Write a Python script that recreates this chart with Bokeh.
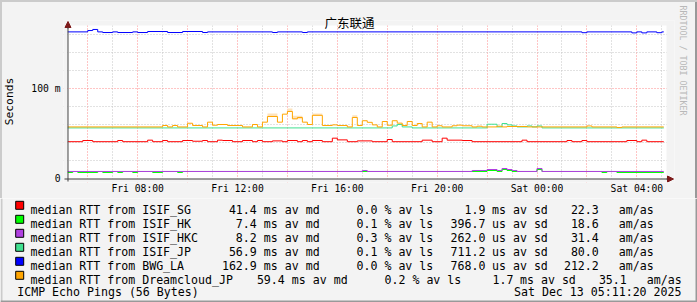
from bokeh.plotting import figure
from bokeh.models import Range1d, FixedTicker, Grid, Title, Arrow, NormalHead, ColumnDataSource
from bokeh.layouts import column
from bokeh.embed import file_html
from bokeh.resources import INLINE
from bokeh.core.properties import value

BG = "#f3f3f3"
MONO = "DejaVu Sans Mono"
CJK = "Noto Sans CJK SC"
AXIS_C = "#404040"
ARROW_C = "#7d1a1a"
GRID_C = "#c4c4c4"
MGRID_C = "#ff8a8a"
SHADE_A = "#cbcbcb"
SHADE_B = "#999999"

# ---------------- data (time in hours since Fri 00:00, values in ms) ----------------
T_START = 5 + 11 / 60 + 20 / 3600      # Fri 05:11:20
T_END = T_START + 24                   # Sat 05:11:20
DATA_END = 29.08
Y_MAX = 170

x_tick_hours = [8, 12, 16, 20, 24, 28]
x_tick_labels = ["Fri 08:00", "Fri 12:00", "Fri 16:00", "Fri 20:00", "Sat 00:00", "Sat 04:00"]
y_tick_ms = [0, 100]
y_tick_labels = ["0", "100 m"]

sg_t = [5.2, 5.8, 6.2, 7.2, 7.4, 8.4, 8.6, 9.0, 9.2, 9.8, 10.2, 10.6, 10.8, 11.2, 11.4, 11.8, 12.2,
        12.6, 12.8, 13.0, 13.4, 13.8, 14.0, 14.4, 14.6, 14.8, 15.0, 15.4, 15.8, 16.0, 16.4, 16.8,
        17.4, 18.0, 18.2, 19.4, 19.8, 20.2, 20.4, 21.0, 21.4, 23.4, 23.6, 25.2, 25.4, 25.8, 26.0,
        27.6, 28.0, 28.2, 28.4]
sg_ms = [40.9, 42.2, 40.9, 42.2, 40.9, 42.6, 40.9, 42.2, 40.9, 42.2, 41.4, 42.2, 40.9, 42.6, 42.2,
         40.9, 42.2, 40.9, 42.2, 40.9, 41.8, 40.9, 42.2, 40.9, 42.2, 40.9, 42.2, 40.9, 44.8, 42.9,
         40.9, 41.8, 40.9, 43.3, 40.9, 42.6, 40.9, 44.8, 42.6, 42.2, 40.9, 42.6, 40.9, 42.2, 40.9,
         42.2, 40.9, 42.2, 40.9, 42.6, 40.9]

hk_t = [5.2, 5.4, 5.6, 6.4, 6.6, 7.0, 7.2, 7.4, 7.8, 8.0, 8.6, 9.0, 9.6, 9.8, 22.0, 22.4, 22.6,
        22.8, 23.0, 24.0, 24.2, 26.6, 26.8, 27.2]
hk_ms = [6.7, 7.8, 6.7, 7.8, 6.7, 7.8, 6.7, 7.8, 6.7, 7.8, 6.7, 7.8, 6.7, 7.8, 8.9, 7.8, 10.0,
         8.9, 7.8, 10.0, 7.8, 6.7, 7.8, 6.7]

hkc_t = [5.2, 17.0, 17.2, 21.4, 22.0, 22.4, 22.6, 22.8, 23.0, 23.2, 24.0, 24.2]
hkc_ms = [7.8, 8.9, 7.8, 8.9, 10.0, 8.9, 11.1, 10.0, 8.9, 7.8, 11.1, 7.8]

jp_t = [5.2, 18.2, 18.4, 18.6, 19.0, 22.0, 22.4, 22.6, 22.8, 23.0, 23.2, 23.6, 23.8, 24.0, 24.2]
jp_ms = [56.2, 58.4, 60.0, 57.3, 56.2, 60.3, 57.3, 61.1, 59.6, 58.4, 57.3, 58.4, 57.3, 58.4, 56.2]

la_t = [5.2, 6.0, 6.2, 6.4, 6.6, 7.0, 7.2, 7.8, 8.0, 8.4, 9.2, 9.8, 10.6, 10.8, 13.4, 13.6, 14.6,
        14.8, 25.8, 26.0, 27.8, 28.0, 28.2, 28.4, 28.8, 29.0]
la_ms = [162.9, 164.4, 165.6, 162.9, 162.2, 162.9, 162.2, 162.9, 162.2, 163.3, 162.2, 163.3, 162.2,
         162.9, 162.2, 162.9, 162.2, 162.9, 162.0, 162.9, 161.8, 162.9, 161.8, 162.9, 162.0, 162.9]

dc_t = [5.2, 9.0, 9.2, 9.4, 9.6, 10.0, 10.2, 10.6, 10.8, 11.0, 11.2, 11.6, 12.2, 12.6, 12.8, 13.0,
        13.2, 13.6, 13.8, 14.0, 14.2, 14.4, 14.6, 14.8, 15.0, 15.4, 15.8, 16.0, 16.4, 16.6, 16.8,
        17.0, 17.2, 17.4, 17.6, 17.8, 18.0, 18.2, 18.4, 18.6, 18.8, 19.0, 19.2, 19.4, 19.6, 19.8,
        20.0, 20.2, 20.6, 20.8, 21.0, 21.4, 21.6, 21.8, 22.4, 22.6, 22.8, 23.6, 26.0, 26.2, 27.2, 27.4]
dc_ms = [57.3, 58.9, 57.3, 58.9, 57.3, 61.4, 58.9, 57.3, 62.6, 59.2, 60.0, 58.9, 57.3, 60.0, 57.3,
         62.6, 68.9, 62.6, 71.5, 74.5, 66.3, 67.8, 62.6, 60.0, 70.2, 58.9, 59.6, 58.9, 57.3, 67.8,
         58.9, 64.2, 62.4, 59.6, 57.3, 63.3, 59.2, 64.2, 61.5, 58.9, 63.3, 58.9, 61.1, 57.3, 62.6,
         57.3, 58.6, 57.3, 58.6, 59.3, 58.6, 57.3, 58.1, 57.3, 58.1, 57.3, 57.8, 57.3, 58.4, 57.3,
         56.7, 57.3]

# faint "smoke" (spread) around the Dreamcloud_JP median at its peaks
dc_smoke_t0 = [13.2, 14.0, 14.2, 15.0, 16.6]
dc_smoke_t1 = [13.6, 14.2, 14.6, 15.4, 16.8]
dc_smoke_lo = [68.9, 74.0, 65.9, 70.2, 67.8]
dc_smoke_hi = [72.2, 77.8, 69.6, 72.2, 70.3]

names = ["ISIF_SG", "ISIF_HK", "ISIF_HKC", "ISIF_JP", "BWG_LA", "Dreamcloud_JP"]
colors = ["#ff0000", "#00ff00", "#b040e0", "#40e090", "#0000ff", "#ffa500"]
series_t = [sg_t, hk_t, hkc_t, jp_t, la_t, dc_t]
series_ms = [sg_ms, hk_ms, hkc_ms, jp_ms, la_ms, dc_ms]

av_md = [41.4, 7.4, 8.2, 56.9, 162.9, 59.4]
av_ls = [0.0, 0.1, 0.3, 0.1, 0.0, 0.2]
av_sd = [1.9, 396.7, 262.0, 711.2, 768.0, 1.7]
av_sd_unit = ["ms", "us", "us", "us", "us", "ms"]
am_as = [22.3, 18.6, 31.4, 80.0, 212.2, 35.1]
footer_left = "ICMP Echo Pings (56 Bytes)"
footer_right = "Sat Dec 13 05:11:20 2025"
title_text = "广东联通"
watermark = "RRDTOOL / TOBI OETIKER"

# ---------------- layout helpers (pixel -> data, decorations only) ----------------
FRAME_L, FRAME_B = 66, 178          # pixel position of (T_START, 0)
PX_PER_H = 600 / 24
PX_PER_MS = 153 / Y_MAX


def tx(px):
    return T_START + (px - FRAME_L) / PX_PER_H


def my(py):
    return (FRAME_B - py) / PX_PER_MS


X0, X1 = tx(62), tx(674)
Y0, Y1 = my(182), my(20)

# ---------------- main chart ----------------
p = figure(width=697, height=198, output_backend="svg", toolbar_location=None,
           x_range=Range1d(X0, X1), y_range=Range1d(Y0, Y1),
           min_border_left=62, min_border_right=23, min_border_top=20, min_border_bottom=16,
           background_fill_color="white", border_fill_color=BG, border_fill_alpha=0,
           outline_line_color=None, frame_align=False)
# 3D frame of the image (top/left light, right dark), drawn behind the transparent border
p.styles = {"background-color": BG,
            "box-shadow": f"inset 2px 2px 0 0 {SHADE_A}, inset -2px 0 0 0 {SHADE_B}"}

for g in p.grid:
    g.visible = False

odd_h = [h for h in range(5, 31) if h % 2 == 1 and T_START < h < T_END]
even_h = [h for h in range(5, 31) if h % 2 == 0 and T_START < h < T_END]
p.add_layout(Grid(dimension=0, ticker=FixedTicker(ticks=odd_h), grid_line_color=GRID_C,
                  grid_line_dash="1 2", level="underlay"))
p.add_layout(Grid(dimension=0, ticker=FixedTicker(ticks=even_h), grid_line_color=MGRID_C,
                  grid_line_dash="1 2", level="underlay"))
p.add_layout(Grid(dimension=1, ticker=FixedTicker(ticks=[20, 40, 60, 80, 120, 140, 160]),
                  grid_line_color=GRID_C, grid_line_dash="1 2", level="underlay"))
p.add_layout(Grid(dimension=1, ticker=FixedTicker(ticks=[100]), grid_line_color=MGRID_C,
                  grid_line_dash="1 2", level="underlay"))

# grey margins around the white canvas (inside the frame)
p.quad(left=[X0, T_END, X0, X0], right=[T_START, X1, X1, X1],
       bottom=[Y0, Y0, Y_MAX, Y0], top=[Y1, Y1, Y1, 0],
       fill_color=BG, line_color=None)

p.quad(left=dc_smoke_t0, right=dc_smoke_t1, bottom=dc_smoke_lo, top=dc_smoke_hi,
       fill_color="#fde3bd", line_color=None)

for t, v, c in zip(series_t, series_ms, colors):
    p.step(list(t) + [DATA_END], list(v) + [v[-1]], mode="after", line_color=c, line_width=1)

# axis lines with arrows
p.segment(x0=[tx(63), tx(66.5)], y0=[my(178.5), my(181)], x1=[tx(668), tx(66.5)],
          y1=[my(178.5), my(26)], line_color=AXIS_C, line_width=1)
p.add_layout(Arrow(end=NormalHead(size=6, fill_color=ARROW_C, line_color=ARROW_C),
                   x_start=tx(666), y_start=my(178.5), x_end=tx(673), y_end=my(178.5),
                   line_color=AXIS_C, line_width=1))
p.add_layout(Arrow(end=NormalHead(size=6, fill_color=ARROW_C, line_color=ARROW_C),
                   x_start=tx(66.5), y_start=my(28), x_end=tx(66.5), y_end=my(21),
                   line_color=AXIS_C, line_width=1))

xa = p.xaxis[0]
xa.ticker = FixedTicker(ticks=x_tick_hours)
xa.major_label_overrides = {h: l for h, l in zip(x_tick_hours, x_tick_labels)}
ya = p.yaxis[0]
ya.ticker = FixedTicker(ticks=y_tick_ms)
ya.major_label_overrides = {m: l for m, l in zip(y_tick_ms, y_tick_labels)}
for ax in (xa, ya):
    ax.major_label_text_font = MONO
    ax.major_label_text_font_size = "9.7px"
    ax.major_label_text_color = "black"
    ax.axis_line_color = None
    ax.major_tick_line_color = None
    ax.minor_tick_line_color = None
    ax.major_tick_in = 0
    ax.major_tick_out = 0
xa.major_label_standoff = 0
ya.major_label_standoff = 3
ya.axis_label = "Seconds"
ya.axis_label_text_font = MONO
ya.axis_label_text_font_size = "11.3px"
ya.axis_label_text_font_style = "normal"
ya.axis_label_text_color = "black"
ya.axis_label_standoff = 12

p.title.text = title_text
p.title.align = "left"
p.title.offset = 261
p.title.standoff = -23
p.title.text_font = CJK
p.title.text_font_size = "12.5px"
p.title.text_font_style = "normal"
p.title.text_color = "black"

p.add_layout(Title(text=watermark, align="left", text_font=MONO, text_font_size="8.3px",
                   text_color="#b8b8b8", text_font_style="normal", offset=-15, standoff=6), "right")

# ---------------- legend part ----------------
leg = figure(width=697, height=104, output_backend="svg", toolbar_location=None,
             x_range=Range1d(0, 697), y_range=Range1d(302, 198),
             x_axis_location=None, y_axis_location=None, min_border=0,
             background_fill_color=BG, border_fill_color=BG, outline_line_color=None,
             frame_align=False)
for g in leg.grid:
    g.visible = False

ROW0, DY = 209, 14
rows_y = [ROW0 + DY * i for i in range(len(names))]
shift = [28 if len(n) > 10 else 0 for n in names]


def add_text(xs, ys, texts, align):
    src = ColumnDataSource(dict(x=xs, y=ys, t=texts))
    leg.text(x="x", y="y", text="t", source=src, text_font=value(MONO), text_font_size="11.6px",
             text_color="black", text_align=align, text_baseline="alphabetic")


leg.rect(x=[19.2] * len(names), y=[y - 4.2 for y in rows_y], width=8, height=8,
         fill_color=colors, line_color="black", line_width=1)
add_text([30] * len(names), rows_y, ["median RTT from " + n for n in names], "left")
add_text([256.3 + s for s in shift], rows_y, [f"{v:.1f}" for v in av_md], "right")
add_text([263.3 + s for s in shift], rows_y, ["ms av md"] * len(names), "left")
add_text([356 + s for s in shift], rows_y, [f"{v:.1f} % av ls" for v in av_ls], "left")
add_text([485 + s for s in shift], rows_y, [f"{v:.1f}" for v in av_sd], "right")
add_text([491.5 + s for s in shift], rows_y, [u + " av sd" for u in av_sd_unit], "left")
add_text([598.3 + s for s in shift], rows_y, [f"{v:.1f}" for v in am_as], "right")
add_text([618.3 + s for s in shift], rows_y, ["am/as"] * len(names), "left")
add_text([16.7], [291], [footer_left], "left")
add_text([681], [291], [footer_right], "right")

leg.segment(x0=[1, 696, 0], y0=[198, 198, 301], x1=[1, 696, 697], y1=[302, 302, 301],
            line_color=[SHADE_A, SHADE_B, SHADE_B], line_width=2)

layout = column(p, leg, spacing=0)
open("out.html", "w").write(file_html(layout, INLINE))
